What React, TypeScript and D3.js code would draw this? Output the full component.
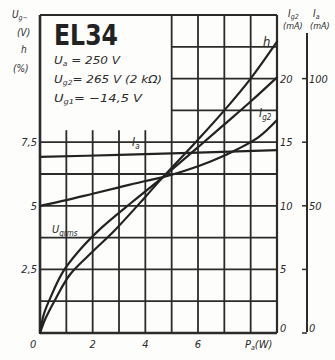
import React from 'react';
import * as d3 from 'd3';

const W = 335;
const H = 360;

// Output power P (W) against anode current Ia (mA)
const iaPower = [0, 3, 6, 9];
const iaValues = [69.2, 70.0, 70.9, 71.9];

// Screen-grid current Ig2 (mA)
const ig2Power = [0, 1, 2, 3, 4, 4.67, 5.5, 6.5, 7.5, 8.3, 9];
const ig2Values = [10, 10.45, 10.95, 11.45, 11.95, 12.25, 12.75, 13.5, 14.45, 15.4, 16.75];

// Grid drive voltage Ug rms (V)
const ugPower = [0, 0.15, 0.4, 0.87, 1.5, 2.35, 3.5, 4.67, 6, 7, 8, 9];
const ugValues = [0, 0.75, 1.4, 2.4, 3.25, 4.15, 5.15, 6.13, 7.3, 8.2, 9.1, 10.05];

// Distortion h (%)
const hPower = [0, 0.2, 0.57, 1.14, 2, 2.85, 4, 4.67, 6, 7, 8, 9];
const hValues = [0, 0.55, 1.3, 2.3, 3.2, 4.05, 5.35, 6.13, 7.6, 8.75, 10.0, 11.45];

// Axis ticks
const leftTicks = [2.5, 5, 7.5];
const leftTickLabels = ['2,5', '5', '7,5'];
const ig2Ticks = [0, 5, 10, 15, 20];
const iaTicks = [0, 50, 100];
const iaMinorTicks = [25, 75];
const powerTicks = [2, 4, 6];

const INK = '#2b2b2b';
const FONT = '"DejaVu Sans Condensed", "DejaVu Sans", sans-serif';

export default function App() {
  const x = d3.scaleLinear().domain([0, 9]).range([40, 277]);
  const yL = d3.scaleLinear().domain([0, 12.5]).range([333, 15]);
  const yG2 = d3.scaleLinear().domain([0, 25]).range([333, 15]);
  const yIa = d3.scaleLinear().domain([0, 125]).range([333, 15]);

  const mk = (xs: number[], ys: number[], yScale: d3.ScaleLinear<number, number>) =>
    d3
      .line<number>()
      .x((_, i) => x(xs[i]))
      .y((d) => yScale(d))
      .curve(d3.curveCatmullRom.alpha(0.5))(ys) as string;

  const iaPath = mk(iaPower, iaValues, yIa);
  const ig2Path = mk(ig2Power, ig2Values, yG2);
  const ugPath = mk(ugPower, ugValues, yL);
  const hPath = mk(hPower, hValues, yL);

  // The title block occupies the upper-left part of the grid
  const boxP = 5;
  const boxV = 7.5;
  const vGrid = d3.range(0, 10);
  const hGrid = d3.range(0, 11).map((k) => k * 1.25);

  const textStyle: React.CSSProperties = {
    fontFamily: FONT,
    fontStyle: 'italic',
    fill: INK,
  };

  return (
    <svg
      width={W}
      height={H}
      viewBox={`0 0 ${W} ${H}`}
      style={{ position: 'absolute', left: 0, top: 0, background: '#fdfdfb' }}
    >
      <rect x={0} y={0} width={W} height={H} fill="#fdfdfb" />

      {/* grid */}
      <g stroke={INK} strokeWidth={1.8} fill="none">
        {vGrid.map((p) => {
          const top = p > 0 && p < boxP ? yL(boxV) - 12 : yL(12.5);
          return <line key={'v' + p} x1={x(p)} x2={x(p)} y1={top} y2={yL(0)} />;
        })}
        {hGrid.map((v) => {
          const left = v > boxV && v < 12.5 ? x(boxP) : x(0);
          return <line key={'h' + v} x1={left} x2={x(9)} y1={yL(v)} y2={yL(v)} />;
        })}
      </g>
      <line x1={x(0)} x2={x(0)} y1={yL(12.5)} y2={yL(0)} stroke={INK} strokeWidth={2.6} />
      <line x1={x(0)} x2={x(9)} y1={yL(0)} y2={yL(0)} stroke={INK} strokeWidth={2.4} />
      <line x1={x(9)} x2={x(9)} y1={yL(12.5)} y2={yL(0)} stroke={INK} strokeWidth={2.2} />

      {/* curves */}
      <g fill="none" stroke="#222" strokeWidth={2.2} strokeLinecap="round" strokeLinejoin="round">
        <path d={iaPath} />
        <path d={ig2Path} />
        <path d={ugPath} />
        <path d={hPath} />
      </g>

      {/* curve labels */}
      <text x={132} y={146} fontSize={12} style={textStyle}>
        I<tspan fontSize={8} dy={3}>a</tspan>
      </text>
      <text x={259} y={117} fontSize={12} style={textStyle}>
        I<tspan fontSize={8} dy={3}>g2</tspan>
      </text>
      <text x={263} y={46} fontSize={13} style={textStyle}>
        h
      </text>
      <text x={52} y={233} fontSize={11} style={textStyle}>
        U<tspan fontSize={8} dy={3}>grms</tspan>
      </text>

      {/* title block */}
      <text
        x={54}
        y={45}
        fontSize={28}
        fontWeight="bold"
        textLength={64}
        lengthAdjust="spacingAndGlyphs"
        style={{ fontFamily: FONT, fill: '#222' }}
      >
        EL34
      </text>
      <text x={54} y={64} fontSize={11} style={textStyle} textLength={66} lengthAdjust="spacingAndGlyphs">
        U<tspan fontSize={7} dy={2}>a</tspan>
        <tspan dy={-2}> = 250 V</tspan>
      </text>
      <text x={54} y={83} fontSize={11} style={textStyle} textLength={108} lengthAdjust="spacingAndGlyphs">
        U<tspan fontSize={7} dy={2}>g2</tspan>
        <tspan dy={-2}>= 265 V (2 kΩ)</tspan>
      </text>
      <text x={54} y={102} fontSize={11} style={textStyle} textLength={88} lengthAdjust="spacingAndGlyphs">
        U<tspan fontSize={7} dy={2}>g1</tspan>
        <tspan dy={-2}>= −14,5 V</tspan>
      </text>

      {/* left axis */}
      <text x={12} y={18} fontSize={10} style={textStyle}>
        U<tspan fontSize={7} dy={2}>g~</tspan>
      </text>
      <text x={17} y={36} fontSize={10} style={textStyle}>
        (V)
      </text>
      <text x={21} y={53} fontSize={10} style={textStyle}>
        h
      </text>
      <text x={13} y={72} fontSize={10} style={textStyle}>
        (%)
      </text>
      {leftTicks.map((t, i) => (
        <text
          key={'lt' + t}
          x={37}
          y={yL(t) + 4}
          fontSize={11}
          textAnchor="end"
          style={textStyle}
        >
          {leftTickLabels[i]}
        </text>
      ))}
      <text x={30} y={348} fontSize={11} style={textStyle}>
        0
      </text>

      {/* power axis */}
      {powerTicks.map((p) => (
        <text key={'pt' + p} x={x(p)} y={348} fontSize={11} textAnchor="middle" style={textStyle}>
          {p}
        </text>
      ))}
      <text x={245} y={348} fontSize={11} style={textStyle}>
        P<tspan fontSize={7} dy={2}>a</tspan>
        <tspan dy={-2}>(W)</tspan>
      </text>

      {/* Ig2 axis */}
      <text x={288} y={17} fontSize={10} style={textStyle}>
        I<tspan fontSize={7} dy={2}>g2</tspan>
      </text>
      <text x={283} y={29} fontSize={9} style={textStyle}>
        (mA)
      </text>
      {ig2Ticks.map((t) => (
        <text
          key={'g' + t}
          x={280}
          y={t === 0 ? 332 : yG2(t) + 4}
          fontSize={11}
          style={textStyle}
        >
          {t}
        </text>
      ))}

      {/* Ia axis */}
      <line x1={307} x2={307} y1={33} y2={332} stroke={INK} strokeWidth={2} />
      {[...iaTicks, ...iaMinorTicks].map((t) => (
        <line key={'it' + t} x1={302} x2={307} y1={yIa(t)} y2={yIa(t)} stroke={INK} strokeWidth={1.5} />
      ))}
      <text x={313} y={17} fontSize={10} style={textStyle}>
        I<tspan fontSize={7} dy={2}>a</tspan>
      </text>
      <text x={310} y={29} fontSize={9} style={textStyle}>
        (mA)
      </text>
      {iaTicks.map((t) => (
        <text
          key={'i' + t}
          x={309}
          y={t === 0 ? 332 : yIa(t) + 4}
          fontSize={11}
          style={textStyle}
        >
          {t}
        </text>
      ))}
    </svg>
  );
}
